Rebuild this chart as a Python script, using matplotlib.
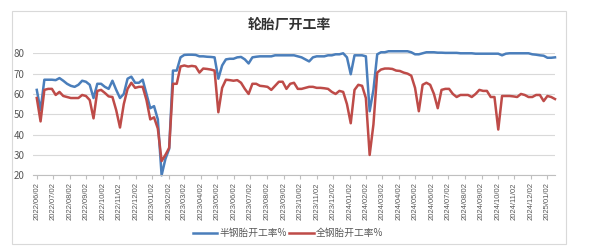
import matplotlib.pyplot as plt
import matplotlib.dates as mdates
import numpy as np
import pandas as pd

plt.rcParams['font.family'] = ['Noto Sans CJK SC', 'DejaVu Sans']

# weekly readings, starting 2022-06-02
start_date = "2022-06-02"
semi_steel = [62, 52, 67, 67, 67, 66.8, 67.8, 66.5, 65, 64,
              63.5, 64.5, 66.5, 66, 64.5, 58, 65, 65, 63.5, 62.5,
              66.5, 62, 58, 60, 67.5, 68.5, 65.5, 65.5, 67, 60,
              53, 54, 47.5, 20, 28, 33, 71.5, 71.5, 78, 79.2,
              79.3, 79.3, 79.2, 78.5, 78.5, 78.3, 78.2, 78, 67.5, 74,
              77, 77.3, 77.3, 78, 78.2, 77, 75, 78, 78.3, 78.5,
              78.5, 78.5, 78.5, 79, 79, 79, 79, 79, 79, 78.5,
              78, 77, 76, 78, 78.5, 78.5, 78.5, 79, 79, 79.5,
              79.5, 80, 78, 69.7, 79, 79, 79, 78.5, 51.5, 62,
              79.5, 80.5, 80.5, 81, 81, 81, 81, 81, 81, 80.5,
              79.5, 79.5, 80, 80.5, 80.5, 80.5, 80.3, 80.3, 80.2, 80.2,
              80.2, 80.2, 80, 80, 80, 80, 79.8, 79.8, 79.8, 79.8,
              79.8, 79.8, 79.8, 79, 79.8, 80, 80, 80, 80, 80,
              80, 79.5, 79.3, 79, 78.8, 77.8, 77.8, 78]
all_steel = [58, 46.5, 62, 62.5, 62.5, 59.5, 61, 59, 58.5, 58,
             58, 58, 59.5, 59, 57, 48, 61.5, 62, 60.5, 58.8,
             58.5, 52, 43.5, 55, 62.5, 65.5, 63, 63.5, 63.5, 57,
             47.5, 48.5, 43, 27, 30, 33.5, 65, 65, 73.5, 74,
             73.5, 73.8, 73.5, 70.5, 72.5, 72.3, 72, 71.5, 51, 63,
             67, 66.8, 66.5, 66.8, 65.5, 62.5, 60, 65, 65, 64,
             63.8, 63.5, 62, 64, 66, 66, 62.5, 65, 65.5, 62.5,
             62.5, 63, 63.5, 63.5, 63, 63, 62.8, 62.5, 61, 60,
             61.5, 61, 55, 45.6, 62, 64.5, 64, 58, 30, 45,
             70.5, 72, 72.5, 72.5, 72.3, 71.5, 71.3, 70.5, 70, 69,
             63, 51.5, 64.5, 65.5, 64.5, 60, 53, 62, 62.5, 62.5,
             60, 58.5, 59.5, 59.5, 59.5, 58.5, 60, 62, 61.5, 61.5,
             58.5, 58.5, 42.5, 59, 59, 59, 58.8, 58.5, 60, 59.5,
             58.5, 58.5, 59.5, 59.5, 56.5, 59, 58.5, 57.5]
# x tick labels fall on the 2nd of each month
tick_months = pd.date_range("2022-06-01", "2025-01-01", freq="MS") + pd.Timedelta(days=1)
series_names = ["半钢胎开工率%", "全钢胎开工率%"]

dates = pd.date_range(start_date, periods=len(semi_steel), freq="7D")

fig = plt.figure(figsize=(5.93, 2.49), dpi=100)
# outer chart border
fig.patches.append(plt.Rectangle((12 / 593, 5 / 249), 554 / 593, 233 / 249, transform=fig.transFigure,
                                 fill=False, edgecolor='#d9d9d9', linewidth=0.8))
ax = fig.add_axes([33 / 593, 0.296, 522 / 593, 0.49])

ax.plot(dates, semi_steel, color='#4a7ebb', lw=1.8, label=series_names[0], clip_on=False)
ax.plot(dates, all_steel, color='#be4b48', lw=1.8, label=series_names[1], clip_on=False)

ax.set_ylim(20, 80)
ax.set_yticks(np.arange(20, 81, 10))
ax.set_xlim(dates[0] - pd.Timedelta(days=7), dates[-1])
ax.set_xticks(tick_months)
ax.xaxis.set_major_formatter(mdates.DateFormatter("%Y/%m/%d"))
for lbl in ax.get_xticklabels():
    lbl.set_rotation(90)
    lbl.set_fontsize(5.5)
    lbl.set_family('Liberation Sans')
    lbl.set_color('#595959')
ax.tick_params(axis='y', length=0, labelsize=7, labelcolor='#595959', pad=6)
ax.tick_params(axis='x', length=3, color='#bfbfbf', pad=2)
ax.grid(axis='y', color='#d9d9d9', lw=0.8)
ax.set_axisbelow(True)
for s in ['top', 'right', 'left']:
    ax.spines[s].set_visible(False)
ax.spines['bottom'].set_color('#bfbfbf')

fig.text(289 / 593, 1 - 25 / 249, "轮胎厂开工率", ha='center', va='center',
         fontsize=10, fontweight='bold', color='#333333')
fig.legend(loc='center', bbox_to_anchor=(288 / 593, 1 - 233 / 249), ncol=2, frameon=False,
           fontsize=7, handlelength=2.5, handletextpad=0.2, columnspacing=0.3, labelcolor='#595959')

fig.savefig("out.png", dpi=100)
